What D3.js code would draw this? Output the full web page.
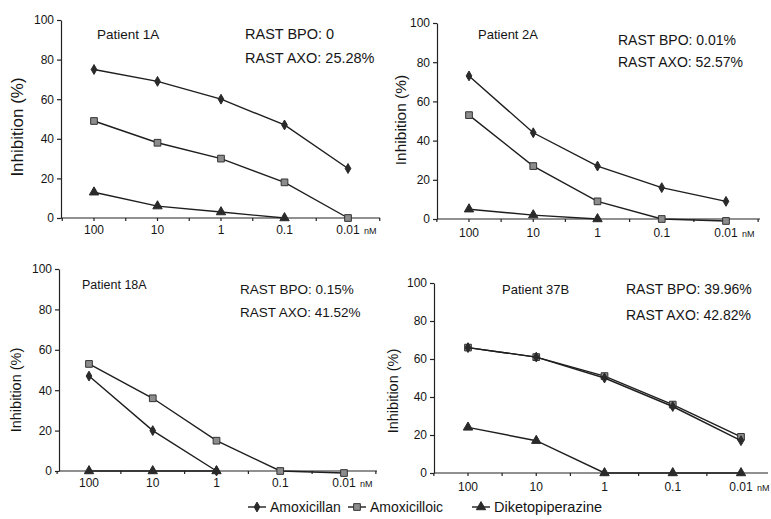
<!DOCTYPE html>
<html>
<head>
<meta charset="utf-8">
<style>
body { margin: 0; background: #fff; }
svg { font-family: "Liberation Sans", Arial, sans-serif; }
.axis path, .axis line { stroke: #222; stroke-width: 1.2; }
.axis text { fill: #151515; font-size: 12px; }
.line { fill: none; stroke: #1e1e1e; stroke-width: 1.4; }
.note { fill: #151515; }
</style>
</head>
<body>
<svg width="771" height="519"></svg>
<script src="https://cdn.jsdelivr.net/npm/d3@7"></script>
<script>

// data
var doses = ["100", "10", "1", "0.1", "0.01"];
var yTicks = [0, 20, 40, 60, 80, 100];
var patients = ["Patient 1A", "Patient 2A", "Patient 18A", "Patient 37B"];
var rastBPO = ["0", "0.01%", "0.15%", "39.96%"];
var rastAXO = ["25.28%", "52.57%", "41.52%", "42.82%"];
var seriesNames = ["Amoxicillan", "Amoxicilloic", "Diketopiperazine"];

var amoxicillin = [
  [75, 69, 60, 47, 25],
  [73, 44, 27, 16, 9],
  [47, 20, 0, null, null],
  [66, 61, 50, 35, 17]
];
var amoxicilloic = [
  [49, 38, 30, 18, 0],
  [53, 27, 9, 0, -1],
  [53, 36, 15, 0, -1],
  [66, 61, 51, 36, 19]
];
var diketopiperazine = [
  [13, 6, 3, 0, null],
  [5, 2, 0, null, null],
  [0, 0, 0, null, null],
  [24, 17, 0, 0, 0]
];

// where each scanned panel sits
var panels = [
  {ax: 61, y0: 218, y100: 20, x0: 94, x1: 348, xend: 380, lab: 234,
   tx: 97, ty: 39, rx: 245, ry1: 39, ry2: 63, fs: 14.5, yl: 17, ylc: 127, yfs: 17},
  {ax: 437, y0: 219, y100: 23, x0: 469, x1: 726, xend: 760, lab: 237,
   tx: 478, ty: 39, rx: 618, ry1: 45, ry2: 67, fs: 14, yl: 400, ylc: 120, yfs: 15.5},
  {ax: 59, y0: 471, y100: 269, x0: 89, x1: 344, xend: 377, lab: 487,
   tx: 82, ty: 289, rx: 240, ry1: 294, ry2: 317, fs: 13.5, yl: 16, ylc: 390, yfs: 14.5},
  {ax: 434, y0: 473, y100: 283, x0: 468, x1: 741, xend: 768, lab: 491,
   tx: 502, ty: 294, rx: 626, ry1: 294, ry2: 320, fs: 14, yl: 393, ylc: 391, yfs: 14.5}
];

var svg = d3.select("svg");

var symbols = [d3.symbolDiamond, d3.symbolSquare, d3.symbolTriangle];
var symSize = [28, 45, 38];
var symFill = ["#2a2a2a", "#8c8c8c", "#2a2a2a"];
var symStroke = ["#2a2a2a", "#333", "#2a2a2a"];

function drawPanel(p, i) {
  var g = svg.append("g");

  var x = d3.scalePoint().domain(doses).range([p.x0, p.x1]);
  var y = d3.scaleLinear().domain([0, 100]).range([p.y0, p.y100]);

  // y axis
  g.append("g")
    .attr("class", "axis")
    .attr("transform", "translate(" + p.ax + ",0)")
    .call(d3.axisLeft(y).tickValues(yTicks).tickSize(4).tickSizeOuter(0).tickPadding(3))
    .selectAll("text").style("font-size", "12px");

  // x axis line with small ticks between doses
  var half = (p.x1 - p.x0) / 8;
  var minor = d3.range(p.x0 - half, p.xend, half);
  var xa = g.append("g").attr("class", "axis");
  xa.append("line")
    .attr("x1", p.ax).attr("x2", p.xend)
    .attr("y1", p.y0).attr("y2", p.y0);
  xa.selectAll(".mt").data(minor).enter().append("line")
    .attr("x1", function(d) { return d; }).attr("x2", function(d) { return d; })
    .attr("y1", p.y0).attr("y2", p.y0 + 3);
  xa.selectAll(".xl").data(doses).enter().append("text")
    .attr("x", function(d) { return x(d); })
    .attr("y", p.lab)
    .attr("text-anchor", "middle")
    .text(function(d) { return d; });
  xa.append("text")
    .attr("x", p.x1 + 16).attr("y", p.lab)
    .style("font-size", "9px")
    .text("nM");

  // y label
  g.append("text")
    .attr("class", "note")
    .attr("transform", "translate(" + p.yl + "," + p.ylc + ") rotate(-90)")
    .attr("text-anchor", "middle")
    .attr("dominant-baseline", "central")
    .style("font-size", p.yfs + "px")
    .text("Inhibition (%)");

  // annotations
  g.append("text").attr("class", "note").attr("x", p.tx).attr("y", p.ty)
    .style("font-size", (p.fs - 1) + "px").text(patients[i]);
  g.append("text").attr("class", "note").attr("x", p.rx).attr("y", p.ry1)
    .style("font-size", p.fs + "px").text("RAST BPO: " + rastBPO[i]);
  g.append("text").attr("class", "note").attr("x", p.rx).attr("y", p.ry2)
    .style("font-size", p.fs + "px").text("RAST AXO: " + rastAXO[i]);

  var line = d3.line()
    .defined(function(d) { return d != null; })
    .x(function(d, j) { return x(doses[j]); })
    .y(function(d) { return y(d); });

  var series = [amoxicilloic[i], diketopiperazine[i], amoxicillin[i]];
  var kinds = [1, 2, 0];
  series.forEach(function(vals, k) {
    var s = kinds[k];
    g.append("path").attr("class", "line").attr("d", line(vals));
    var pts = vals.map(function(v, j) { return {v: v, d: doses[j]}; })
      .filter(function(o) { return o.v != null; });
    g.selectAll(".m" + s).data(pts).enter().append("path")
      .attr("d", d3.symbol().type(symbols[s]).size(symSize[s]))
      .attr("transform", function(o) { return "translate(" + x(o.d) + "," + y(o.v) + ")"; })
      .attr("fill", symFill[s])
      .attr("stroke", symStroke[s])
      .attr("stroke-width", 1);
  });
}

panels.forEach(drawPanel);

// legend
var legX = [248, 348, 472];
var leg = svg.append("g").attr("transform", "translate(0,507)");
seriesNames.forEach(function(name, s) {
  var lg = leg.append("g").attr("transform", "translate(" + legX[s] + ",0)");
  lg.append("line").attr("x1", 0).attr("x2", 18).attr("y1", 0).attr("y2", 0)
    .attr("stroke", "#1e1e1e").attr("stroke-width", 1.4);
  lg.append("path")
    .attr("d", d3.symbol().type(symbols[s]).size(symSize[s]))
    .attr("transform", "translate(9,0)")
    .attr("fill", symFill[s]).attr("stroke", symStroke[s]);
  lg.append("text").attr("class", "note")
    .attr("x", 22).attr("y", 0)
    .attr("dominant-baseline", "central")
    .style("font-size", s === 2 ? "14.5px" : "14px")
    .text(name);
});
</script>
</body>
</html>
